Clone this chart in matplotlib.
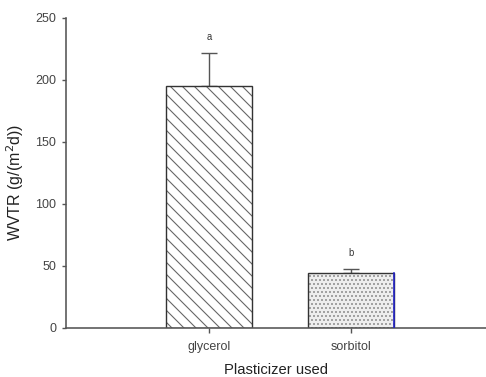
import matplotlib
matplotlib.use("Agg")
import matplotlib.pyplot as plt
from matplotlib.colors import to_rgba

plt.rcParams['font.family'] = ['Liberation Sans', 'DejaVu Sans']
plt.rcParams['hatch.linewidth'] = 1.1

categories = ["glycerol", "sorbitol"]
wvtr_mean = [195, 44.6]
wvtr_err = [26.5, 3.2]
group_letters = ["a", "b"]
hatches = ["\\\\", "..."]
face_colors = ["white", "#eeeeee"]
hatch_colors = ["#666666", "#8a8a8a"]

# 72 dpi so that one point equals one pixel
fig = plt.figure(figsize=(486 / 72, 377 / 72), dpi=72)
ax = fig.add_axes([66 / 486, 49 / 377, 420 / 486, 310 / 377])

x = list(range(len(categories)))
width = 0.606
axis_gray = "#555555"

bars = ax.bar(x, wvtr_mean, width=width, color=face_colors, edgecolor="#333333",
              linewidth=1.4, zorder=2)
for bar, h, hc in zip(bars, hatches, hatch_colors):
    bar.set_hatch(h)
    bar._hatch_color = to_rgba(hc)

# blue right edge on the sorbitol bar
ax.plot([x[1] + width / 2, x[1] + width / 2], [0, wvtr_mean[1]], color="#2222cc",
        linewidth=1.6, zorder=3)

# upper error bars only
ax.errorbar(x, wvtr_mean, yerr=[[0] * len(x), wvtr_err], fmt="none",
            ecolor="#555555", elinewidth=1.4, capsize=8, capthick=1.4, zorder=1)

for xi, m, e, lab in zip(x, wvtr_mean, wvtr_err, group_letters):
    ax.annotate(lab, (xi, m + e), xytext=(0, 11), textcoords="offset points",
                ha="center", va="bottom", fontsize=9.5, color="#333333")

ax.set_xlim(-1.007, 1.951)
ax.set_ylim(0, 250)
ax.set_yticks([0, 50, 100, 150, 200, 250])
ax.set_xticks(x)
ax.set_xticklabels(categories)

for side in ["top", "right"]:
    ax.spines[side].set_visible(False)
for side in ["left", "bottom"]:
    ax.spines[side].set_color(axis_gray)
    ax.spines[side].set_linewidth(1.6)

ax.tick_params(axis="y", direction="out", length=4, width=1.4, color=axis_gray,
               labelsize=12.5, labelcolor="#444444", pad=6)
ax.tick_params(axis="x", direction="out", length=5, width=1.4, color=axis_gray,
               labelsize=12.5, labelcolor="#444444", pad=8)

ax.set_ylabel("WVTR (g/(m$^2$d))", fontsize=16, color="#222222")
ax.yaxis.set_label_coords(-0.095, 0.47)
ax.set_xlabel("Plasticizer used", fontsize=14.8, color="#222222", labelpad=10)

fig.savefig("out.png", dpi=72)
